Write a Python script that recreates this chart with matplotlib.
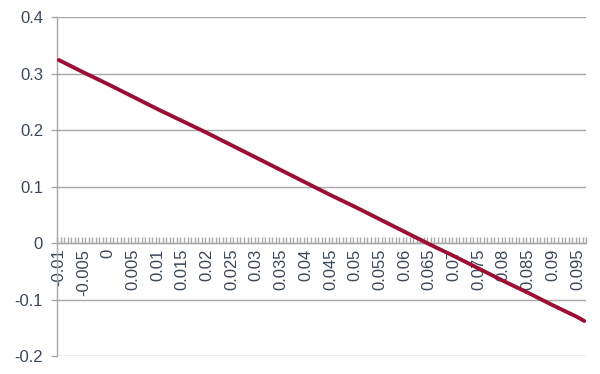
import numpy as np
import matplotlib
matplotlib.use("Agg")
import matplotlib.pyplot as plt

# values (label positions + last point)
x_labels = ["-0.01", "-0.005", "0", "0.005", "0.01", "0.015", "0.02", "0.025",
            "0.03", "0.035", "0.04", "0.045", "0.05", "0.055", "0.06", "0.065",
            "0.07", "0.075", "0.08", "0.085", "0.09", "0.095"]
x_vals = [-0.01, -0.005, 0.0, 0.005, 0.01, 0.015, 0.02, 0.025, 0.03, 0.035,
          0.04, 0.045, 0.05, 0.055, 0.06, 0.065, 0.07, 0.075, 0.08, 0.085,
          0.09, 0.095, 0.0964]
y_vals = [0.324, 0.302, 0.281, 0.259, 0.237, 0.216, 0.195, 0.173, 0.151,
          0.129, 0.107, 0.085, 0.064, 0.042, 0.020, -0.002, -0.023, -0.045,
          -0.067, -0.088, -0.110, -0.131, -0.138]
y_ticks = [-0.2, -0.1, 0, 0.1, 0.2, 0.3, 0.4]
y_tick_labels = ["-0.2", "-0.1", "0", "0.1", "0.2", "0.3", "0.4"]

TEXT = "#3a4758"
GRID = "#a8a8a8"
LINE = "#9b0f35"
STEP = 0.005 / 7

plt.rcParams["font.family"] = ["Liberation Sans", "DejaVu Sans"]

fig = plt.figure(figsize=(6.0, 3.74), dpi=100)
ax = fig.add_axes([0.095, 0.048, 0.882, 0.9065])

ax.plot(x_vals, y_vals, color=LINE, linewidth=2.8, solid_capstyle="round", zorder=3)

x_lo = x_vals[0] - 0.5 * STEP
x_hi = 0.095 + 2.5 * STEP
ax.set_xlim(x_lo, x_hi)
ax.set_ylim(-0.2, 0.4)

# y axis
ax.set_yticks(y_ticks)
ax.set_yticklabels(y_tick_labels)
ax.yaxis.grid(True, color=GRID, linewidth=1.0)
ax.set_axisbelow(True)
ax.tick_params(axis="y", direction="out", length=4, width=1, color=GRID,
               labelsize=12, labelcolor=TEXT, pad=6)

# x axis sits at y = 0, small ticks between categories, labels every 7
ax.spines["bottom"].set_position(("data", 0))
boundaries = x_lo + STEP * np.arange(0, round((x_hi - x_lo) / STEP) + 1)
ax.set_xticks(boundaries)
ax.set_xticklabels([])
ax.tick_params(axis="x", which="major", direction="in", length=4, width=1, color=GRID)
ax.set_xticks(x_vals[:len(x_labels)], minor=True)
ax.set_xticklabels(x_labels, minor=True, rotation=90)
ax.tick_params(axis="x", which="minor", length=0, labelsize=12,
               labelcolor=TEXT, pad=4)

for side in ["top", "right"]:
    ax.spines[side].set_visible(False)
for side in ["left", "bottom"]:
    ax.spines[side].set_color(GRID)
    ax.spines[side].set_linewidth(1.0)

fig.savefig("out.png", dpi=100, facecolor="white")
